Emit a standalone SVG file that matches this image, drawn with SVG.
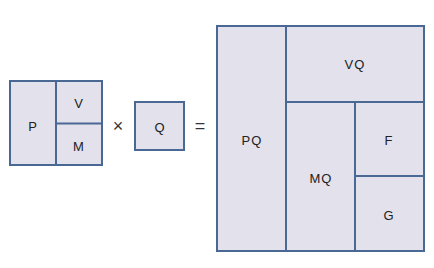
<svg xmlns="http://www.w3.org/2000/svg" width="434" height="268" viewBox="0 0 434 268">
<style>
.b{fill:#e3e1ec;stroke:#4a6894;stroke-width:2}
.l{stroke:#4a6894;stroke-width:2;fill:none}
text{font-family:"Liberation Sans",Arial,sans-serif;font-size:13px;fill:#222;text-anchor:middle;dominant-baseline:central;letter-spacing:1px}
.op{font-size:18px;fill:#333;letter-spacing:0}
</style>
<rect width="434" height="268" fill="#fff"/>
<g id="left">
<rect class="b" x="10" y="81" width="92" height="84"/>
<line class="l" x1="56" y1="81" x2="56" y2="165"/>
<line class="l" x1="56" y1="123.5" x2="102" y2="123.5"/>
<text x="33" y="126">P</text>
<text x="79" y="103">V</text>
<text x="79" y="146">M</text>
</g>
<text class="op" x="118" y="126">×</text>
<g id="q">
<rect class="b" x="135" y="102" width="49" height="48"/>
<text x="160" y="127">Q</text>
</g>
<text class="op" x="200" y="126">=</text>
<g id="right">
<rect class="b" x="217" y="26" width="207" height="225"/>
<line class="l" x1="286" y1="26" x2="286" y2="251"/>
<line class="l" x1="286" y1="102" x2="424" y2="102"/>
<line class="l" x1="355" y1="102" x2="355" y2="251"/>
<line class="l" x1="355" y1="176" x2="424" y2="176"/>
<text x="252" y="140">PQ</text>
<text x="355" y="64">VQ</text>
<text x="321" y="178">MQ</text>
<text x="389" y="140">F</text>
<text x="389" y="215">G</text>
</g>
</svg>
